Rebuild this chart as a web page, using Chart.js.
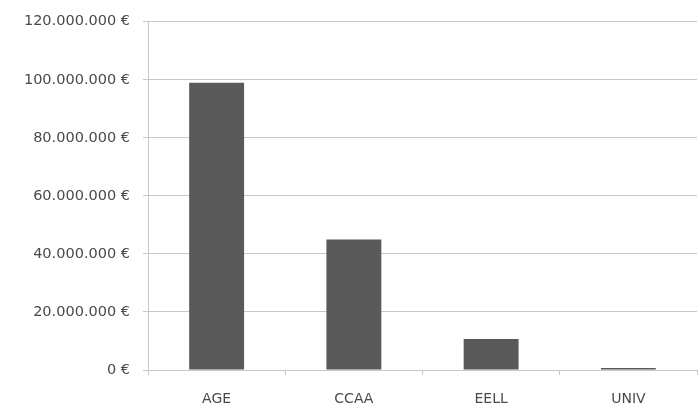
<!DOCTYPE html>
<html>
<head>
<meta charset="utf-8">
<script src="https://cdn.jsdelivr.net/npm/chart.js@4.4.0/dist/chart.umd.min.js"></script>
<style>
  html, body { margin: 0; padding: 0; background: #fff; }
  #wrap { width: 698px; height: 409px; }
</style>
</head>
<body>
<div id="wrap"><canvas id="chart" width="698" height="409"></canvas></div>
<script>
// Datos
const categories = ['AGE', 'CCAA', 'EELL', 'UNIV'];
const amounts = [99000000, 45000000, 10700000, 700000];
const yTicks = [0, 20000000, 40000000, 60000000, 80000000, 100000000, 120000000];

function formatEuro(v) {
  return v.toLocaleString('de-DE') + ' €';
}

const ctx = document.getElementById('chart');

new Chart(ctx, {
  type: 'bar',
  data: {
    labels: categories,
    datasets: [{
      data: amounts,
      backgroundColor: '#595959',
      borderWidth: 0,
      categoryPercentage: 1,
      barPercentage: 0.4
    }]
  },
  options: {
    responsive: false,
    animation: false,
    layout: { padding: { top: 21, right: 1, left: 0, bottom: 0 } },
    plugins: {
      legend: { display: false },
      tooltip: { enabled: false }
    },
    scales: {
      x: {
        grid: {
          display: true,
          offset: true,
          drawOnChartArea: false,
          drawTicks: true,
          tickLength: 5,
          color: '#c8c8c8'
        },
        border: { color: '#c8c8c8' },
        ticks: {
          color: '#4a4a4a',
          font: { family: 'DejaVu Sans', size: 14 },
          padding: 16
        },
        afterFit: function(scale) { scale.height = 39; }
      },
      y: {
        min: 0,
        max: yTicks[yTicks.length - 1],
        afterBuildTicks: function(scale) {
          scale.ticks = yTicks.map(v => ({ value: v }));
        },
        grid: {
          color: '#c8c8c8',
          drawTicks: true,
          tickLength: 5
        },
        border: { color: '#c8c8c8' },
        ticks: {
          color: '#4a4a4a',
          font: { family: 'DejaVu Sans', size: 14.5 },
          padding: 13,
          callback: function(value) { return formatEuro(value); }
        },
        afterFit: function(scale) { scale.width = 148; }
      }
    }
  }
});
</script>
</body>
</html>
